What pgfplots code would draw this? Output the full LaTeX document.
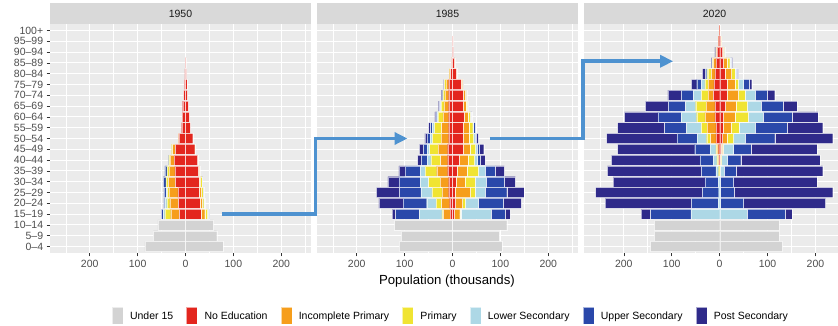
\documentclass[border=0pt]{standalone}
\usepackage{pgfplots}
\pgfplotsset{compat=1.18}
\usepackage{pgfplotstable}
\usepackage{fontspec}
\setmainfont{Liberation Sans}
\usetikzlibrary{arrows.meta}

\definecolor{cU}{HTML}{D3D3D3}
\definecolor{cN}{HTML}{E3261E}
\definecolor{cI}{HTML}{F69E1C}
\definecolor{cP}{HTML}{F0E432}
\definecolor{cL}{HTML}{ADD8E6}
\definecolor{cUS}{HTML}{2A48AA}
\definecolor{cPS}{HTML}{2F2A8A}
\definecolor{panelbg}{HTML}{EBEBEB}
\definecolor{stripbg}{HTML}{D9D9D9}
\definecolor{ticktxt}{HTML}{4D4D4D}
\definecolor{tickc}{HTML}{333333}
\definecolor{striptxt}{HTML}{1A1A1A}
\definecolor{arrowc}{HTML}{4E92D0}

\newcommand\ticksize{\fontsize{10.5}{12}\selectfont}

% columns: i=age group index, u=Under 15, n=No Education, ip=Incomplete Primary,
% p=Primary, ls=Lower Secondary, us=Upper Secondary, ps=Post Secondary
\pgfplotstableread{
i u n ip p ls us ps
0 85 0 0 0 0 0 0
1 67 0 0 0 0 0 0
2 58 0 0 0 0 0 0
3 0 13 18 12 3 4 1
4 0 15 18 6 4 2 0
5 0 16 19 3 2 5 0
6 0 21 15 5 0 5 0
7 0 22 12 5 0 4 0
8 0 24 8 3 0 1 0
9 0 21 6 2 0 0 0
10 0 14 1 0 0 0 0
11 0 8 0 0 0 0 0
12 0 7 0 0 0 0 0
13 0 6 0 0 0 0 0
14 0 4 0 0 0 0 0
15 0 3 0 0 0 0 0
16 0 1.5 0 0 0 0 0
17 0 0.7 0 0 0 0 0
18 0 0 0 0 0 0 0
19 0 0 0 0 0 0 0
20 0 0 0 0 0 0 0
}\LA
\pgfplotstableread{
i u n ip p ls us ps
0 78 0 0 0 0 0 0
1 65 0 0 0 0 0 0
2 58 0 0 0 0 0 0
3 0 32 8 6 2 2 0
4 0 30 5 3 2 0 0
5 0 28 5 3 0 2 0
6 0 28 3 3 0 1 0
7 0 27 2 1 0 0 0
8 0 25 1 1 0 0 0
9 0 19 1 0 0 0 0
10 0 15 0 0 0 0 0
11 0 10 0 0 0 0 0
12 0 8 0 0 0 0 0
13 0 6 0 0 0 0 0
14 0 4 0 0 0 0 0
15 0 3 0 0 0 0 0
16 0 1.5 0 0 0 0 0
17 0 0.7 0 0 0 0 0
18 0 0 0 0 0 0 0
19 0 0 0 0 0 0 0
20 0 0 0 0 0 0 0
}\RA
\pgfplotstableread{
i u n ip p ls us ps
0 111 0 0 0 0 0 0
1 107 0 0 0 0 0 0
2 121 0 0 0 0 0 0
3 0 5 14 3 47 50 7
4 0 6 17 11 20 49 51
5 0 8 14 21 23 45 48
6 0 8 18 24 17 45 23
7 0 10 23 24 10 32 13
8 0 10 15 20 8 12 8
9 0 10 20 18 5 8 8
10 0 8 16 18 5 6 5
11 0 8 15 15 4 4 4
12 0 8 12 10 2 2 3
13 0 8 10 6 1 2 2
14 0 8 8 4 0 2 2
15 0 8 6 3 0 0 2
16 0 4 2 1 0 0 0
17 0 2 1 0 0 0 0
18 0 1 0 0 0 0 0
19 0 0.5 0 0 0 0 0
20 0 0 0 0 0 0 0
}\LB
\pgfplotstableread{
i u n ip p ls us ps
0 103 0 0 0 0 0 0
1 98 0 0 0 0 0 0
2 113 0 0 0 0 0 0
3 0 4 11 2 63 30 10
4 0 6 15 6 27 52 38
5 0 5 32 10 21 45 36
6 0 7 19 21 23 38 23
7 0 9 21 24 14 21 19
8 0 14 18 14 6 6 10
9 0 22 14 12 3 5 9
10 0 22 12 10 3 3 4
11 0 22 12 8 2 3 1
12 0 24 8 5 1 1 1
13 0 22 6 3 1 1 0
14 0 22 5 2 0 1 0
15 0 18 3 1 0 0 1
16 0 8 1 0 0 0 0
17 0 4 1 0 0 0 0
18 0 2 0 0 0 0 0
19 0 1 0 0 0 0 0
20 0 0 0 0 0 0 0
}\RB
\pgfplotstableread{
i u n ip p ls us ps
0 144 0 0 0 0 0 0
1 136 0 0 0 0 0 0
2 136 0 0 0 0 0 0
3 0 0 0 0 60 84 20
4 0 0 0 0 3 56 180
5 0 0 0 0 2 34 223
6 0 0 0 0 3 28 191
7 0 0 0 2 6 30 196
8 0 1 2 3 7 28 185
9 0 2 3 3 12 32 161
10 0 8 11 8 20 42 147
11 0 8 18 12 31 46 98
12 0 10 21 17 32 49 70
13 0 10 18 22 21 36 48
14 0 13 11 14 17 25 28
15 0 12 12 7 7 10 11
16 0 10 7 8 2 3 6
17 0 8 5 2 0 1 2
18 0 5 2 1 0 0 2
19 0 2 1 0 0 0 0
20 0 0.5 0.5 0 0 0 0
}\LC
\pgfplotstableread{
i u n ip p ls us ps
0 131 0 0 0 0 0 0
1 124 0 0 0 0 0 0
2 124 0 0 0 0 0 0
3 0 0 0 0 57 80 14
4 0 0 0 0 2 48 171
5 0 0 0 0 2 28 206
6 0 0 0 0 2 27 174
7 0 0 0 1 8 25 181
8 0 1 1 2 12 28 165
9 0 3 3 2 21 36 138
10 0 6 9 14 24 62 121
11 0 7 17 16 34 67 74
12 0 8 24 28 30 61 54
13 0 12 22 24 28 46 29
14 0 15 24 14 21 25 16
15 0 15 17 7 11 12 5
16 0 11 14 7 2 3 2
17 0 8 7 6 2 2 2
18 0 6 2 2 0 1 0
19 0 2 1 1 0 0 0
20 0 0.5 0.5 0 0 0 0
}\RC

\newcommand\sevenplots[2]{%
  \addplot[fill=cU] table[y=i, x expr=#2\thisrow{u}] {#1};
  \addplot[fill=cN] table[y=i, x expr=#2\thisrow{n}] {#1};
  \addplot[fill=cI] table[y=i, x expr=#2\thisrow{ip}] {#1};
  \addplot[fill=cP] table[y=i, x expr=#2\thisrow{p}] {#1};
  \addplot[fill=cL] table[y=i, x expr=#2\thisrow{ls}] {#1};
  \addplot[fill=cUS] table[y=i, x expr=#2\thisrow{us}] {#1};
  \addplot[fill=cPS] table[y=i, x expr=#2\thisrow{ps}] {#1};
}

\pgfplotsset{
  pyrbase/.style={
    scale only axis, height=229pt, xmin=-283, ymin=-0.6, ymax=20.6,
    xbar stacked, bar width=0.94, anchor=north west,
    every axis plot/.append style={draw=white, draw opacity=0.6, line width=0.25pt},
  },
  pyrL/.style={pyrbase,
    axis background/.style={fill=panelbg},
    axis line style={draw=none},
    xtick={-200,-100,0,100,200}, xticklabels={200,100,0,100,200},
    minor xtick={-250,-150,-50,50,150,250},
    ytick={0,...,20},
    xmajorgrids, xminorgrids, ymajorgrids,
    major grid style={draw=white, line width=1.1pt},
    minor grid style={draw=white, line width=0.55pt},
    tick align=outside, major tick length=3.3pt, minor tick length=0pt,
    xtick pos=left, ytick pos=left,
    tick style={color=tickc, line width=0.55pt},
    xticklabel style={font=\ticksize, text=ticktxt},
    yticklabel style={font=\ticksize, text=ticktxt},
  },
  pyrR/.style={pyrbase, hide axis},
  strip/.style 2 args={extra description/.code={
    \fill[stripbg] (rel axis cs:0,1) rectangle ([yshift=21pt]rel axis cs:1,1);
    \node[font=\ticksize, text=striptxt] at ([yshift=10.5pt]rel axis cs:#1,1) {#2};
  }},
}

\begin{document}
\begin{tikzpicture}
\path[use as bounding box] (0,0) rectangle (838pt,-326pt);

% ---- 1950
\begin{axis}[pyrL, width=261pt, xmax=262, at={(50pt,-24pt)},
  yticklabels={0–4,5–9,10–14,15–19,20–24,25–29,30–34,35–39,40–44,45–49,50–54,55–59,60–64,65–69,70–74,75–79,80–84,85–89,90–94,95–99,100+},
  strip={0.5}{1950}]
\sevenplots{\LA}{-}
\end{axis}
\begin{axis}[pyrR, width=261pt, xmax=262, at={(50pt,-24pt)}]
\sevenplots{\RA}{}
\coordinate (A1) at (axis cs:76,3);
\end{axis}

% ---- 1985
\begin{axis}[pyrL, width=261pt, xmax=262, at={(317pt,-24pt)},
  yticklabels={}, ytick style={draw=none},
  strip={0.5}{1985},
  xlabel={Population (thousands)},
  xlabel style={at={(axis description cs:0.498,-0.122)}, anchor=center, font=\fontsize{13.2}{15}\selectfont, text=black},
  legend columns=7,
  legend style={at={(0.513,-0.275)}, anchor=center, draw=none, fill=none, font=\ticksize,
    /tikz/every odd column/.append style={column sep=5pt},
    /tikz/every even column/.append style={column sep=11pt}},
  legend image code/.code={\fill[#1] (0pt,-8.5pt) rectangle (11pt,8.5pt);},
  ]
\sevenplots{\LB}{-}
\legend{Under 15, No Education, Incomplete Primary, Primary, Lower Secondary, Upper Secondary, Post Secondary}
\coordinate (A2) at (axis cs:-286,10);
\coordinate (A3) at (axis cs:-94,10);
\end{axis}
\begin{axis}[pyrR, width=261pt, xmax=262, at={(317pt,-24pt)}]
\sevenplots{\RB}{}
\coordinate (B1) at (axis cs:79,10);
\end{axis}

% ---- 2020
\begin{axis}[pyrL, width=254pt, xmax=247, at={(584pt,-24pt)},
  yticklabels={}, ytick style={draw=none},
  strip={0.514}{2020}]
\sevenplots{\LC}{-}
\coordinate (B2) at (axis cs:-285,17.15);
\coordinate (B3) at (axis cs:-97,17.15);
\end{axis}
\begin{axis}[pyrR, width=254pt, xmax=247, at={(584pt,-24pt)}]
\sevenplots{\RC}{}
\end{axis}

% arrows
\draw[arrowc, line width=3.8pt, line join=miter, -{Triangle[length=13pt,width=12pt]}] (A1) -| (A2) -- (A3);
\draw[arrowc, line width=3.8pt, line join=miter, -{Triangle[length=13pt,width=12pt]}] (B1) -| (B2) -- (B3);
\end{tikzpicture}
\end{document}
